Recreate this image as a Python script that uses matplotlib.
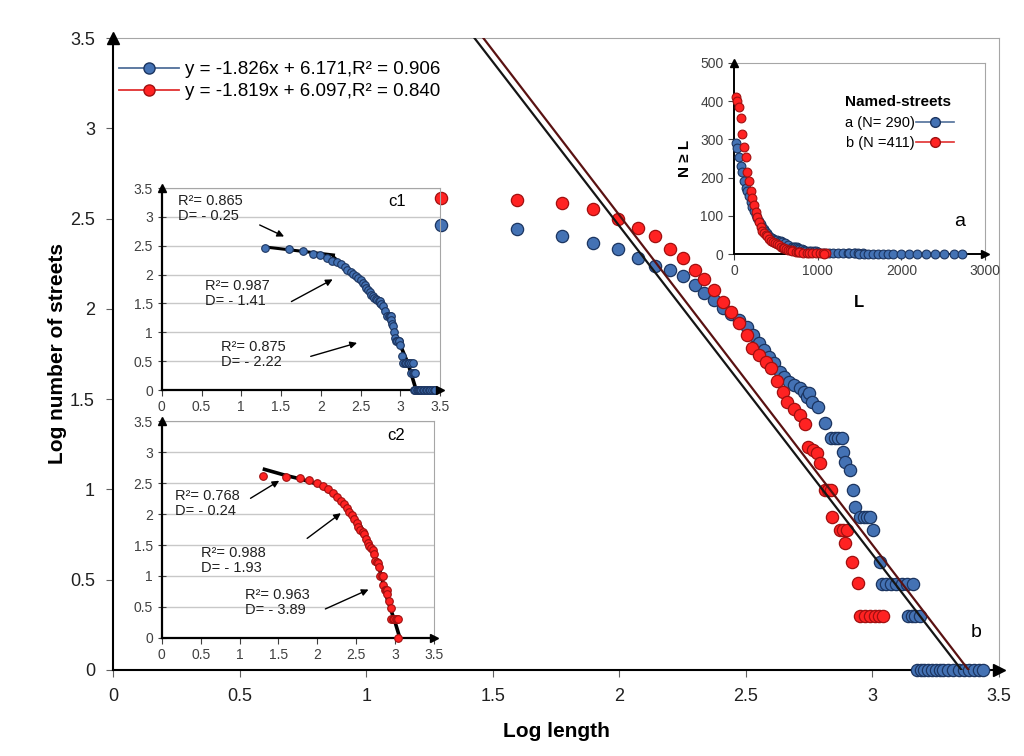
import numpy as np
import matplotlib.pyplot as plt
from matplotlib.lines import Line2D

plt.rcParams['font.family'] = ['Liberation Sans', 'DejaVu Sans']

# log10 length / log10 number of streets (N >= L)
blue_x = [1.295, 1.595, 1.774, 1.896, 1.995, 2.074, 2.142, 2.201, 2.253, 2.300,
          2.336, 2.375, 2.411, 2.443, 2.474, 2.506, 2.530, 2.553, 2.573, 2.593,
          2.613, 2.633, 2.652, 2.672, 2.692, 2.712, 2.728, 2.743, 2.751, 2.763,
          2.783, 2.811, 2.838, 2.852, 2.865, 2.878, 2.882, 2.890, 2.910, 2.922,
          2.930, 2.950, 2.965, 2.980, 2.990, 3.001, 3.028, 3.036, 3.055, 3.075,
          3.095, 3.115, 3.135, 3.159, 3.139, 3.155, 3.170, 3.187,
          3.175, 3.190, 3.205, 3.220, 3.235, 3.250, 3.265, 3.280, 3.300, 3.320,
          3.340, 3.360, 3.380, 3.400, 3.420, 3.436]
blue_y = [2.462, 2.442, 2.403, 2.364, 2.331, 2.281, 2.237, 2.215, 2.182, 2.132,
          2.087, 2.049, 2.004, 1.971, 1.938, 1.899, 1.855, 1.811, 1.772, 1.733,
          1.700, 1.650, 1.622, 1.595, 1.578, 1.561, 1.539, 1.512, 1.534, 1.484,
          1.456, 1.368, 1.285, 1.285, 1.285, 1.285, 1.207, 1.152, 1.107, 0.997,
          0.903, 0.847, 0.847, 0.847, 0.847, 0.775, 0.598, 0.476, 0.476, 0.476,
          0.476, 0.476, 0.476, 0.476, 0.301, 0.301, 0.301, 0.301,
          0.0, 0.0, 0.0, 0.0, 0.0, 0.0, 0.0, 0.0, 0.0, 0.0,
          0.0, 0.0, 0.0, 0.0, 0.0, 0.0]

red_x = [1.295, 1.595, 1.774, 1.896, 1.995, 2.074, 2.142, 2.201, 2.253, 2.300,
         2.336, 2.375, 2.411, 2.443, 2.474, 2.506, 2.526, 2.553, 2.581, 2.601,
         2.621, 2.645, 2.664, 2.692, 2.712, 2.732, 2.747, 2.765, 2.779, 2.791,
         2.811, 2.825, 2.838, 2.842, 2.870, 2.884, 2.898, 2.890, 2.918, 2.941,
         2.950, 2.970, 2.990, 3.010, 3.025, 3.040, 3.030]
red_y = [2.614, 2.602, 2.586, 2.553, 2.497, 2.447, 2.403, 2.331, 2.281, 2.215,
         2.165, 2.104, 2.038, 1.982, 1.921, 1.855, 1.783, 1.744, 1.705, 1.672,
         1.600, 1.539, 1.484, 1.445, 1.412, 1.362, 1.235, 1.220, 1.202, 1.146,
         0.997, 0.997, 0.997, 0.847, 0.775, 0.775, 0.775, 0.703, 0.598, 0.482,
         0.301, 0.301, 0.301, 0.301, 0.301, 0.301, 0.0]

# trend lines (slope, intercept) from the legend
blue_fit = (-1.826, 6.171)
red_fit = (-1.819, 6.097)
blue_label = 'y = -1.826x + 6.171,R² = 0.906'
red_label = 'y = -1.819x + 6.097,R² = 0.840'

# piecewise fits drawn in the small panels
c1_seg_x = [1.29, 2.16]
c1_seg_y = [2.48, 2.34]
c1_curve_x = [2.16, 2.3, 2.45, 2.6, 2.7, 2.8, 2.9, 3.0, 3.1, 3.2, 3.45]
c1_curve_y = [2.30, 2.13, 1.94, 1.72, 1.55, 1.37, 1.10, 0.78, 0.45, 0.0, 0.0]
c2_curve_x = [1.32, 1.6, 1.8, 2.0, 2.2, 2.4, 2.55, 2.7, 2.8, 2.9, 3.0, 3.06]
c2_curve_y = [2.72, 2.62, 2.56, 2.48, 2.32, 2.08, 1.82, 1.45, 1.10, 0.62, 0.25, 0.0]

c1_notes = ['R²= 0.865\nD= - 0.25', 'R²= 0.987\nD= - 1.41', 'R²= 0.875\nD= - 2.22']
c1_note_xy = [(0.20, 3.40), (0.54, 1.92), (0.75, 0.86)]
c1_arrows = [((1.20, 2.88), (1.57, 2.64)), ((1.60, 1.51), (2.18, 1.94)),
             ((1.84, 0.57), (2.49, 0.83))]
c2_notes = ['R²= 0.768\nD= - 0.24', 'R²= 0.988\nD= - 1.93', 'R²= 0.963\nD= - 3.89']
c2_note_xy = [(0.17, 2.40), (0.51, 1.48), (1.07, 0.80)]
c2_arrows = [((1.11, 2.23), (1.54, 2.56)), ((1.84, 1.58), (2.33, 2.04)),
             ((2.07, 0.45), (2.69, 0.80))]

BLUE, BLUE_EDGE = '#4472b4', '#1c3560'
RED, RED_EDGE = '#ff2222', '#a01010'
GRAY = '#a6a6a6'

fig = plt.figure(figsize=(10.24, 7.56), dpi=100)

# ---------------- main log-log panel ----------------
ax = fig.add_axes([0.1104, 0.1138, 0.8652, 0.8359])
ax.scatter(blue_x, blue_y, s=78, c=BLUE, edgecolors=BLUE_EDGE, linewidths=0.9, zorder=3, clip_on=False)
ax.scatter(red_x[:-1], red_y[:-1], s=78, c=RED, edgecolors=RED_EDGE, linewidths=0.9, zorder=3, clip_on=False)
xx = np.array([1.0, 3.5])
ax.plot(xx, red_fit[0] * xx + red_fit[1], color='#151515', lw=1.6, zorder=4)
ax.plot(xx, blue_fit[0] * xx + blue_fit[1], color='#5a1212', lw=1.6, zorder=4)
ax.set_xlim(0, 3.5)
ax.set_ylim(0, 3.5)
ax.set_xticks(np.arange(0, 3.51, 0.5))
ax.set_yticks(np.arange(0, 3.51, 0.5))
ax.set_xticklabels(['0', '0.5', '1', '1.5', '2', '2.5', '3', '3.5'])
ax.set_yticklabels(['0', '0.5', '1', '1.5', '2', '2.5', '3', '3.5'])
ax.tick_params(labelsize=13, length=5, color='#606060', labelcolor='#202020', pad=8)
for s in ['top', 'right']:
    ax.spines[s].set_color(GRAY)
for s in ['left', 'bottom']:
    ax.spines[s].set_color('black')
    ax.spines[s].set_linewidth(1.5)
ax.plot(1, 0, '>k', ms=9, transform=ax.transAxes, clip_on=False, zorder=5)
ax.plot(0, 1, '^k', ms=9, transform=ax.transAxes, clip_on=False, zorder=5)
ax.set_xlabel('Log length', fontsize=15, fontweight='bold', labelpad=12)
ax.set_ylabel('Log number of streets', fontsize=15, fontweight='bold', labelpad=2)
ax.text(3.41, 0.21, 'b', fontsize=14, ha='center', va='center')
handles = [Line2D([], [], color='#50709a', lw=1.3, marker='o', ms=8, mfc=BLUE, mec=BLUE_EDGE),
           Line2D([], [], color='#e03030', lw=1.3, marker='o', ms=8, mfc=RED, mec=RED_EDGE)]
ax.legend(handles, [blue_label, red_label], loc='upper left', bbox_to_anchor=(-0.012, 0.99),
          frameon=False, fontsize=13.5, handlelength=3.2, handletextpad=0.3, labelspacing=0.25)


def small_panel(rect, xs, ys, fill, edge, label, label_xy):
    a = fig.add_axes(rect)
    a.set_facecolor('none')
    for g in np.arange(0.5, 3.51, 0.5):
        a.axhline(g, color='#c8c8c8', lw=1, zorder=0)
    a.scatter(xs, ys, s=30, c=fill, edgecolors=edge, linewidths=0.8, zorder=3, clip_on=False)
    a.set_xlim(0, 3.5)
    a.set_ylim(0, 3.5)
    a.set_xticks(np.arange(0, 3.51, 0.5))
    a.set_yticks(np.arange(0, 3.51, 0.5))
    a.set_xticklabels(['0', '0.5', '1', '1.5', '2', '2.5', '3', '3.5'])
    a.set_yticklabels(['0', '0.5', '1', '1.5', '2', '2.5', '3', '3.5'])
    a.tick_params(labelsize=10, labelcolor='#404040', color='#404040', length=4)
    a.tick_params(axis='y', direction='inout', length=6)
    for s in ['top', 'right']:
        a.spines[s].set_color(GRAY)
    for s in ['left', 'bottom']:
        a.spines[s].set_color('black')
        a.spines[s].set_linewidth(1.6)
    a.plot(1, 0, '>k', ms=6, transform=a.transAxes, clip_on=False, zorder=5)
    a.plot(0, 1, '^k', ms=6, transform=a.transAxes, clip_on=False, zorder=5)
    a.text(label_xy[0], label_xy[1], label, fontsize=12, ha='center', va='center')
    return a


# ---------------- c1 (blue series) ----------------
c1 = small_panel([0.158, 0.4841, 0.2717, 0.2672], blue_x, blue_y, BLUE, BLUE_EDGE, 'c1', (2.96, 3.27))
c1.plot(c1_seg_x, c1_seg_y, color='black', lw=2.2, zorder=2)
c1.plot(c1_curve_x, c1_curve_y, color='black', lw=2.6, zorder=2)
for txt, (tx, ty) in zip(c1_notes, c1_note_xy):
    c1.text(tx, ty, txt, fontsize=10.5, color='#202020', va='top', ha='left', linespacing=1.1)
for tail, tip in c1_arrows:
    c1.annotate('', xy=tip, xytext=tail,
                arrowprops=dict(arrowstyle='-|>', color='black', lw=1, mutation_scale=10))

# ---------------- c2 (red series) ----------------
c2 = small_panel([0.158, 0.1561, 0.2659, 0.2870], red_x, red_y, RED, RED_EDGE, 'c2', (3.01, 3.26))
c2.plot(c2_curve_x, c2_curve_y, color='black', lw=2.6, zorder=2)
for txt, (tx, ty) in zip(c2_notes, c2_note_xy):
    c2.text(tx, ty, txt, fontsize=10.5, color='#202020', va='top', ha='left', linespacing=1.1)
for tail, tip in c2_arrows:
    c2.annotate('', xy=tip, xytext=tail,
                arrowprops=dict(arrowstyle='-|>', color='black', lw=1, mutation_scale=10))

# ---------------- a (linear N >= L vs L) ----------------
ia = fig.add_axes([0.7168, 0.664, 0.2451, 0.2527])
ia.scatter(10 ** np.array(blue_x), 10 ** np.array(blue_y), s=40, c=BLUE, edgecolors=BLUE_EDGE,
           linewidths=0.8, zorder=3, clip_on=False)
ia.scatter(10 ** np.array(red_x), 10 ** np.array(red_y), s=40, c=RED, edgecolors=RED_EDGE,
           linewidths=0.8, zorder=3, clip_on=False)
ia.set_xlim(0, 3000)
ia.set_ylim(0, 500)
ia.set_xticks([0, 1000, 2000, 3000])
ia.set_yticks([0, 100, 200, 300, 400, 500])
ia.tick_params(labelsize=10, labelcolor='#404040', color='#404040', length=4)
for s in ['top', 'right']:
    ia.spines[s].set_color(GRAY)
for s in ['left', 'bottom']:
    ia.spines[s].set_color('black')
    ia.spines[s].set_linewidth(1.4)
ia.plot(1, 0, '>k', ms=6, transform=ia.transAxes, clip_on=False, zorder=5)
ia.plot(0, 1, '^k', ms=6, transform=ia.transAxes, clip_on=False, zorder=5)
ia.set_xlabel('L', fontsize=12, fontweight='bold', labelpad=12)
ia.set_ylabel('N ≥ L', fontsize=11, fontweight='bold', labelpad=6)
ia.text(2700, 84, 'a', fontsize=14, ha='center', va='center')
ha = [Line2D([], [], color='#50709a', lw=1.2, marker='o', ms=7, mfc=BLUE, mec=BLUE_EDGE),
      Line2D([], [], color='#e03030', lw=1.2, marker='o', ms=7, mfc=RED, mec=RED_EDGE)]
leg = ia.legend(ha, ['a (N= 290)', 'b (N =411)'], title='Named-streets', loc='upper right',
                bbox_to_anchor=(0.93, 0.90), frameon=False, fontsize=10.5, markerfirst=False,
                handlelength=2.6, handletextpad=0.1, labelspacing=0.45, alignment='left')
leg.get_title().set_fontweight('bold')
leg.get_title().set_fontsize(11)

fig.savefig('out.png', dpi=100)
